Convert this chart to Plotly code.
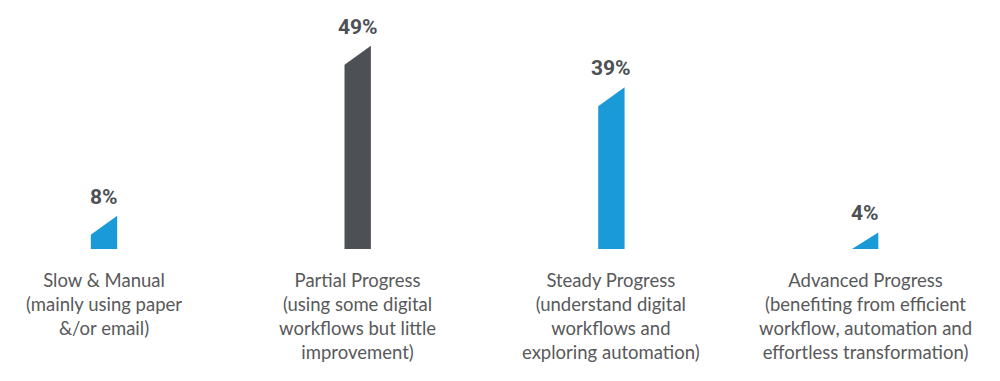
import plotly.graph_objects as go

categories = [
    "Slow & Manual<br>(mainly using paper<br>&/or email)",
    "Partial Progress<br>(using some digital<br>workflows but little<br>improvement)",
    "Steady Progress<br>(understand digital<br>workflows and<br>exploring automation)",
    "Advanced Progress<br>(benefiting from efficient<br>workflow, automation and<br>effortless transformation)",
]
values = [8, 49, 39, 4]
labels = ["8%", "49%", "39%", "4%"]
bar_colors = ["#1a9ad6", "#4d5156", "#1a9ad6", "#1a9ad6"]

W, H = 992, 373          # page body has an 8px margin
PX_PER_UNIT = 4.15
SLANT = 19 / PX_PER_UNIT   # slanted top, in data units
HALF_W = 0.052
SPACING = 253.7
X_FIRST = 96
BASE = 241

fig = go.Figure()
for i, (v, c) in enumerate(zip(values, bar_colors)):
    left_top = max(0, v - SLANT)
    xs = [i - HALF_W, i + HALF_W, i + HALF_W, i - HALF_W, i - HALF_W]
    ys = [0, 0, v, left_top, 0]
    fig.add_trace(go.Scatter(x=xs, y=ys, fill="toself", fillcolor=c,
                             mode="lines", line=dict(width=0, color=c),
                             hoverinfo="skip", showlegend=False))
    fig.add_annotation(x=i, y=v, text="<b>%s</b>" % labels[i], showarrow=False,
                       yanchor="bottom", yshift=5,
                       font=dict(family="Roboto", size=21, color="#4d5055"))
    fig.add_annotation(x=i, y=0, text=categories[i], showarrow=False,
                       yanchor="top", yshift=-18, align="center",
                       font=dict(family="Lato", size=18.5, color="#58595b"))

x0 = -X_FIRST / SPACING
x1 = x0 + W / SPACING
ymin = -(H - BASE) / PX_PER_UNIT
ymax = BASE / PX_PER_UNIT
fig.update_layout(
    width=W, height=H,
    margin=dict(l=0, r=0, t=0, b=0),
    paper_bgcolor="white", plot_bgcolor="white",
    xaxis=dict(range=[x0, x1], visible=False, fixedrange=True),
    yaxis=dict(range=[ymin, ymax], visible=False, fixedrange=True),
    showlegend=False,
)
fig.write_html("out.html")
